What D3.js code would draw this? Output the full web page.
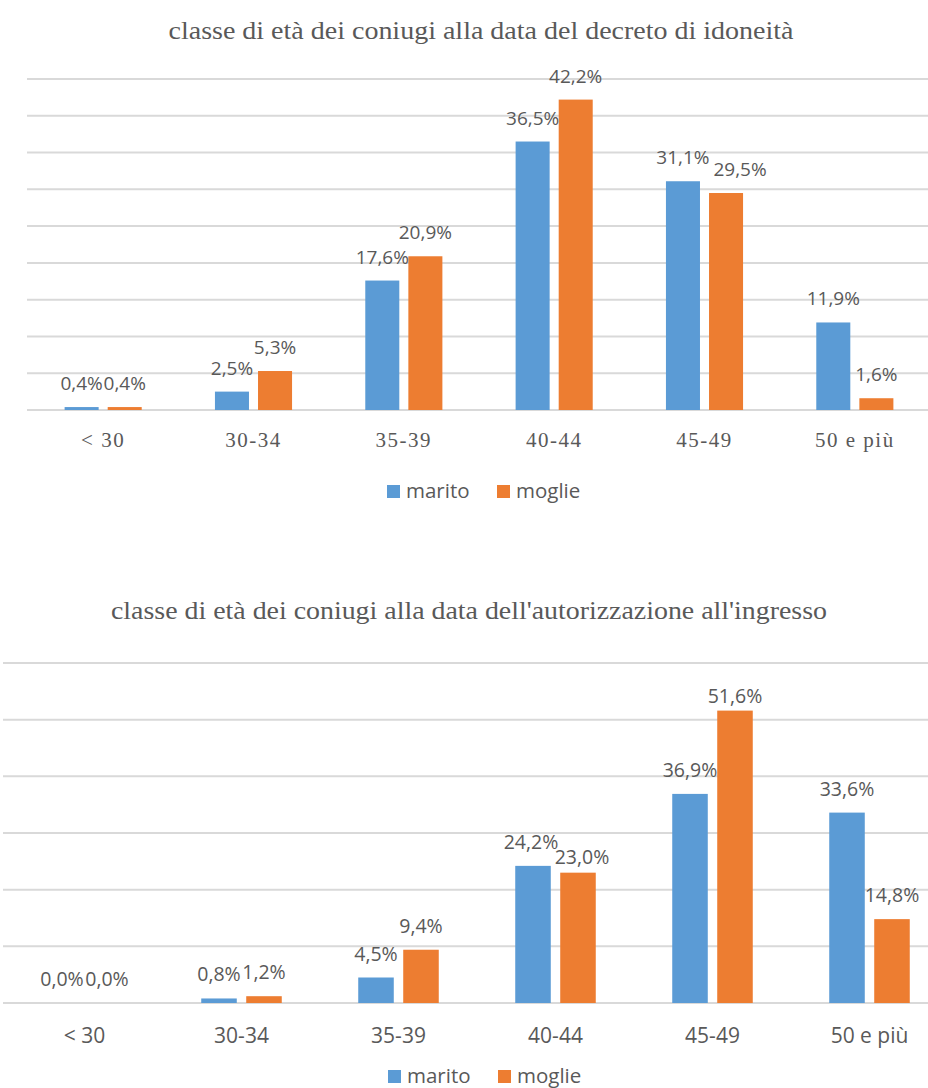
<!DOCTYPE html>
<html>
<head>
<meta charset="utf-8">
<script src="https://cdn.jsdelivr.net/npm/d3@7"></script>
<style>
  body { margin: 0; background: #fff; }
  svg { display: block; }
</style>
</head>
<body>
<script>
// data
const categories = ["< 30", "30-34", "35-39", "40-44", "45-49", "50 e più"];
const series = ["marito", "moglie"];
const colors = ["#5B9BD5", "#ED7D31"];

const idoneitaMarito = [0.4, 2.5, 17.6, 36.5, 31.1, 11.9];
const idoneitaMoglie = [0.4, 5.3, 20.9, 42.2, 29.5, 1.6];
const idoneitaTicks = [0, 5, 10, 15, 20, 25, 30, 35, 40, 45];

const ingressoMarito = [0.0, 0.8, 4.5, 24.2, 36.9, 33.6];
const ingressoMoglie = [0.0, 1.2, 9.4, 23.0, 51.6, 14.8];
const ingressoTicks = [0, 10, 20, 30, 40, 50, 60];

const W = 928, H = 1088;
const grey = "#595959";

var svg = d3.select("body").append("svg")
  .attr("width", W)
  .attr("height", H);

var fmt = v => d3.format(".1f")(v).replace(".", ",") + "%";

function drawChart(opt) {
  var g = svg.append("g");

  var x0 = d3.scaleBand()
    .domain(categories)
    .range([opt.left, opt.right]);

  var x1 = d3.scaleBand()
    .domain(series)
    .range([0, x0.bandwidth()])
    .paddingInner(0.21)
    .paddingOuter(0.85);

  var y = d3.scaleLinear()
    .domain([0, d3.max(opt.ticks)])
    .range([opt.bottom, opt.top]);

  // title
  g.append("text")
    .attr("x", opt.titleCx)
    .attr("y", opt.titleY)
    .attr("text-anchor", "middle")
    .attr("font-family", "Liberation Serif, Times New Roman, serif")
    .attr("font-size", 26)
    .attr("fill", grey)
    .attr("textLength", opt.titleLen)
    .attr("lengthAdjust", "spacingAndGlyphs")
    .text(opt.title);

  // gridlines
  g.append("g")
    .selectAll("line")
    .data(opt.ticks)
    .enter()
    .append("line")
    .attr("x1", opt.gridLeft)
    .attr("x2", W)
    .attr("y1", d => y(d))
    .attr("y2", d => y(d))
    .attr("stroke", "#d9d9d9")
    .attr("stroke-width", 2);

  var rows = categories.map((c, i) => ({
    cat: c,
    vals: [opt.a[i], opt.b[i]]
  }));

  var groups = g.selectAll(".grp")
    .data(rows)
    .enter()
    .append("g")
    .attr("transform", d => "translate(" + x0(d.cat) + ",0)");

  groups.selectAll("rect")
    .data(d => d.vals.map((v, j) => ({ s: series[j], v: v, j: j })))
    .enter()
    .append("rect")
    .attr("x", d => x1(d.s))
    .attr("y", d => y(d.v))
    .attr("width", x1.bandwidth())
    .attr("height", d => opt.bottom - y(d.v))
    .attr("fill", d => colors[d.j]);

  // label nudges (like Excel moving overlapping labels)
  var nudge = (cat, j) => (opt.nudge[cat] && opt.nudge[cat][j]) || [0, 0];

  groups.selectAll(".lbl")
    .data(d => d.vals.map((v, j) => ({ s: series[j], v: v, n: nudge(d.cat, j) })))
    .enter()
    .append("text")
    .attr("x", d => x1(d.s) + x1.bandwidth() / 2 + d.n[0])
    .attr("y", d => y(d.v) - 17 + d.n[1])
    .attr("text-anchor", "middle")
    .attr("font-family", "Open Sans, sans-serif")
    .attr("font-size", opt.labelSize)
    .attr("fill", grey)
    .text(d => fmt(d.v));

  // category axis
  var xAxis = d3.axisBottom(x0).tickSize(0).tickPadding(0);
  var ax = g.append("g")
    .attr("transform", "translate(0," + opt.bottom + ")")
    .call(xAxis);
  ax.select(".domain").remove();
  ax.selectAll("text")
    .attr("y", opt.axisDy)
    .attr("dy", null)
    .attr("font-family", opt.axisFont)
    .attr("font-size", opt.axisSize)
    .attr("letter-spacing", opt.axisSpacing)
    .attr("fill", grey);

  // legend
  var lg = g.append("g");
  series.forEach((s, j) => {
    var lx = opt.legendX[j];
    lg.append("rect")
      .attr("x", lx)
      .attr("y", opt.legendY - 13)
      .attr("width", 13)
      .attr("height", 13)
      .attr("fill", colors[j]);
    lg.append("text")
      .attr("x", lx + 19)
      .attr("y", opt.legendY)
      .attr("font-family", "Open Sans, sans-serif")
      .attr("font-size", 20.5)
      .attr("fill", grey)
      .text(s);
  });
}

drawChart({
  title: "classe di età dei coniugi alla data del decreto di idoneità",
  titleY: 39, titleLen: 625, titleCx: 481,
  a: idoneitaMarito, b: idoneitaMoglie, ticks: idoneitaTicks,
  left: 28, right: 930, top: 79, bottom: 410, gridLeft: 27,
  labelSize: 19,
  nudge: { "45-49": [null, [14, 0]] },
  axisFont: "Liberation Serif, Times New Roman, serif", axisSize: 21, axisSpacing: 1.5, axisDy: 37,
  legendX: [387, 497], legendY: 498
});

drawChart({
  title: "classe di età dei coniugi alla data dell'autorizzazione  all'ingresso",
  titleY: 619, titleLen: 716, titleCx: 469,
  a: ingressoMarito, b: ingressoMoglie, ticks: ingressoTicks,
  left: 6, right: 948, top: 663, bottom: 1003, gridLeft: 3,
  labelSize: 19.5,
  nudge: { "40-44": [[-2, 0], [4, 8]], "45-49": [null, [0, 9]] },
  axisFont: "Open Sans, sans-serif", axisSize: 21, axisSpacing: 0, axisDy: 40,
  legendX: [388, 498], legendY: 1083
});
</script>
</body>
</html>
